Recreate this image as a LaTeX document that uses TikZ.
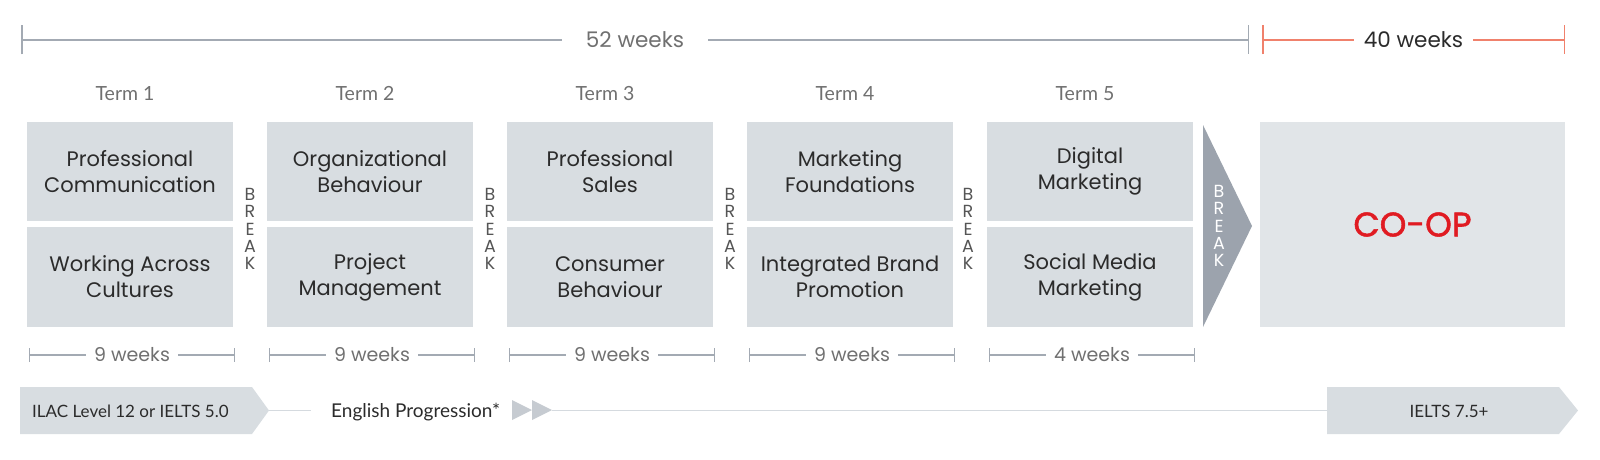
\documentclass[tikz,border=0pt]{standalone}
\usepackage{fontspec}
\setmainfont{Poppins}
\newfontfamily\latofont{Lato}
\newfontfamily\coopfont[FakeBold=1.5]{Poppins}
\usetikzlibrary{positioning, arrows.meta}
\definecolor{boxgray}{HTML}{D8DDE1}
\definecolor{coopgray}{HTML}{E1E5E8}
\definecolor{arrowgray}{HTML}{9CA3AD}
\definecolor{linegray}{HTML}{A3AAB3}
\definecolor{coral}{HTML}{F0816C}
\definecolor{coopred}{HTML}{E01B22}
\definecolor{ink}{HTML}{2B2B2B}
\definecolor{termgray}{HTML}{707070}
\definecolor{chevgray}{HTML}{C6CBD1}
\definecolor{proggray}{HTML}{D5DADF}
\tikzset{course/.style={fill=boxgray,minimum width=206pt,minimum height=99.5pt,inner sep=0pt,
        align=center,text=ink,font=\fontsize{21}{26}\selectfont},
    termlabel/.style={text=termgray,font=\latofont\fontsize{19.5}{20}\selectfont},
    breaktext/.style={align=center,text=ink!80,inner sep=0pt,font=\fontsize{17.5}{17.4}\selectfont},
    span/.style={draw=linegray,line width=1.5pt,{Bar[width=29pt]}-{Bar[width=29pt]}},
    short span/.style={span,line width=1.2pt,{Bar[width=14pt]}-{Bar[width=14pt]}},
    spanlabel/.style={fill=white,inner ysep=1pt,text=termgray,font=\fontsize{21.5}{22}\selectfont},
    weeklabel/.style={fill=white,inner xsep=8pt,inner ysep=1pt,text=termgray,font=\fontsize{19}{20}\selectfont},
    pilltext/.style={inner sep=0pt,text=ink,font=\latofont\fontsize{17}{18}\selectfont},
    progline/.style={draw=proggray,line width=1.5pt}}

\begin{document}
\begin{tikzpicture}[x=1pt,y=-1pt]
    \useasboundingbox (0,0) rectangle (1600,460);

    % Overall durations
    \coordinate (s52a) at (21,40);
    \coordinate (s52b) at (1249,40);
    \coordinate (s40a) at (1262,40);
    \coordinate (s40b) at (1565,40);
    \draw[span] (s52a) -- node[spanlabel,inner xsep=24pt] (l52) {52 weeks} (s52b);
    \draw[span,draw=coral] (s40a) -- node[spanlabel,inner xsep=10pt,text=ink] (l40) {40 weeks} (s40b);

    % Terms, courses and their lengths
    \foreach \n/\tx/\top/\bot/\wk in {1/27/{Professional\\Communication}/{Working Across\\Cultures}/9,
        2/267/{Organizational\\Behaviour}/{Project\\Management}/9,
        3/507/{Professional\\Sales}/{Consumer\\Behaviour}/9,
        4/747/{Marketing\\Foundations}/{Integrated Brand\\Promotion}/9,
        5/987/{Digital\\Marketing}/{Social Media\\Marketing}/4} {
        \node[termlabel] (term\n) at (\tx+98,94) {Term \n};
        \node[course] (top\n) at (\tx+103,171.5) {\top};
        \node[course] (bot\n) at (\tx+103,277) {\bot};
        \coordinate (wa\n) at (\tx+2,355);
        \coordinate (wb\n) at (\tx+208,355);
        \draw[short span] (wa\n) -- node[weeklabel] (wk\n) {\wk\ weeks} (wb\n);
    }

    % Breaks between terms
    \foreach \bx [count=\k] in {250,490,730,968}
        \node[breaktext] (brk\k) at (\bx,229) {B\\R\\E\\A\\K};

    % Break arrow and co-op
    \fill[arrowgray] (1203,125) -- (1252,226) -- (1203,327) -- cycle;
    \node[breaktext,text=white] (brk5) at (1219,226) {B\\R\\E\\A\\K};
    \node[fill=coopgray,minimum width=305pt,minimum height=205pt,inner sep=0pt,
        text=coopred,font=\coopfont\fontsize{34}{34}\selectfont] (coop) at (1412.5,224.5) {CO-OP};

    % English progression
    \fill[boxgray] (20,387) -- (252,387) -- (269,410.5) -- (252,434) -- (20,434) -- cycle;
    \coordinate (ilactip) at (269,410.5);
    \node[pilltext,anchor=base west] (ilac) at (32,417) {ILAC Level 12 or IELTS 5.0};
    \node[pilltext,anchor=base west,font=\latofont\fontsize{19}{20}\selectfont] (engl) at (331,417.5) {English Progression*};
    \draw[progline] (ilactip) -- ([xshift=-20pt]engl.west |- ilactip);
    \fill[chevgray] (512,400) -- (532,410) -- (512,420) -- cycle;
    \fill[chevgray] (532,400) -- (552,410) -- (532,420) -- cycle;
    \coordinate (chevtip) at (552,410.5);
    \fill[boxgray] (1327,387) -- (1559,387) -- (1578,410.5) -- (1559,434) -- (1327,434) -- cycle;
    \coordinate (ieltsback) at (1327,410.5);
    \node[pilltext,anchor=base] (ielts) at (1449,417) {IELTS 7.5+};
    \draw[progline] (chevtip) -- (ieltsback);
\end{tikzpicture}
\end{document}
